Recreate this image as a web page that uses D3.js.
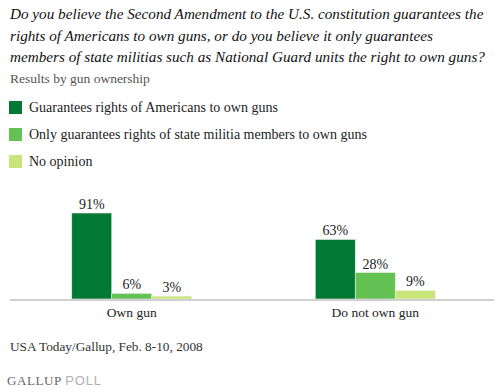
<!DOCTYPE html>
<html>
<head>
<meta charset="utf-8">
<script src="https://cdn.jsdelivr.net/npm/d3@7"></script>
<style>
  body { margin: 0; background: #fff; }
  svg text { font-family: "Liberation Serif", "DejaVu Serif", serif; }
</style>
</head>
<body>
<svg id="chart" width="504" height="392"></svg>
<script>
var titleLines = [
  'Do you believe the Second Amendment to the U.S. constitution guarantees the',
  'rights of Americans to own guns, or do you believe it only guarantees',
  'members of state militias such as National Guard units the right to own guns?'
];
var subtitle = 'Results by gun ownership';
var categories = ['Own gun', 'Do not own gun'];
var seriesNames = [
  'Guarantees rights of Americans to own guns',
  'Only guarantees rights of state militia members to own guns',
  'No opinion'
];
var seriesColors = ['#007934', '#64c153', '#c8e57a'];
var guaranteesAll = [91, 63];
var militiaOnly = [6, 28];
var noOpinion = [3, 9];
var source = 'USA Today/Gallup, Feb. 8-10, 2008';

var series = [guaranteesAll, militiaOnly, noOpinion];

var svg = d3.select('#chart');

// title block
svg.append('g').selectAll('text')
  .data(titleLines).enter()
  .append('text')
    .attr('x', 10)
    .attr('y', function (d, i) { return 19 + i * 21.7; })
    .attr('font-size', 15.2)
    .attr('font-style', 'italic')
    .attr('fill', '#111')
    .text(function (d) { return d; });

svg.append('text')
  .attr('x', 10).attr('y', 83)
  .attr('font-size', 13.5)
  .attr('fill', '#555')
  .text(subtitle);

// legend
var legend = svg.append('g').selectAll('g')
  .data(seriesNames).enter()
  .append('g')
    .attr('transform', function (d, i) { return 'translate(9,' + (101 + i * 27) + ')'; });
legend.append('rect')
  .attr('width', 13).attr('height', 13)
  .attr('fill', function (d, i) { return seriesColors[i]; });
legend.append('text')
  .attr('x', 20).attr('y', 11)
  .attr('font-size', 14)
  .attr('fill', '#222')
  .text(function (d) { return d; });

// bars
var x0 = d3.scaleBand().domain(categories).range([10, 497]);
var x1 = d3.scaleBand().domain(d3.range(series.length)).range([0, 120]);
var y = d3.scaleLinear().domain([0, 100]).range([299, 204.5]);

var groups = svg.append('g').selectAll('g')
  .data(categories).enter()
  .append('g')
    .attr('transform', function (d) { return 'translate(' + (x0(d) + x0.bandwidth() / 2 - 60) + ',0)'; });

groups.selectAll('rect')
  .data(function (d, ci) { return series.map(function (s, si) { return { si: si, v: s[ci] }; }); })
  .enter().append('rect')
    .attr('x', function (d) { return x1(d.si); })
    .attr('y', function (d) { return y(d.v); })
    .attr('width', x1.bandwidth())
    .attr('height', function (d) { return y(0) - y(d.v); })
    .attr('fill', function (d) { return seriesColors[d.si]; })
    .attr('stroke', '#e8f2e0')
    .attr('stroke-width', 0.6);

groups.selectAll('text.val')
  .data(function (d, ci) { return series.map(function (s, si) { return { si: si, v: s[ci] }; }); })
  .enter().append('text')
    .attr('class', 'val')
    .attr('x', function (d) { return x1(d.si) + x1.bandwidth() / 2; })
    .attr('y', function (d) { return y(d.v) - 4; })
    .attr('text-anchor', 'middle')
    .attr('font-size', 14)
    .attr('fill', '#222')
    .text(function (d) { return d.v + '%'; });

// baseline + category axis
svg.append('line')
  .attr('x1', 10).attr('x2', 494)
  .attr('y1', y(0) + 1).attr('y2', y(0) + 1)
  .attr('stroke', '#d0d0d0').attr('stroke-width', 2);

var xAxis = d3.axisBottom(x0).tickSize(0).tickPadding(0);
var axisG = svg.append('g')
  .attr('transform', 'translate(0,307)')
  .call(xAxis);
axisG.select('.domain').remove();
axisG.selectAll('text')
  .attr('dy', '0.75em')
  .attr('font-family', '"Liberation Serif", serif')
  .attr('font-size', 13.5)
  .attr('fill', '#222');

// footer
svg.append('text')
  .attr('x', 10).attr('y', 351)
  .attr('font-size', 13.3)
  .attr('fill', '#333')
  .text(source);

var logo = svg.append('text')
  .attr('x', 7).attr('y', 385)
  .attr('font-size', 13);
logo.append('tspan').attr('fill', '#666')
  .attr('letter-spacing', 0.6)
  .text('GALLUP ');
logo.append('tspan').attr('fill', '#b0b0b0')
  .attr('font-family', '"Liberation Sans", sans-serif')
  .attr('letter-spacing', 0.8)
  .text('POLL');
</script>
</body>
</html>
